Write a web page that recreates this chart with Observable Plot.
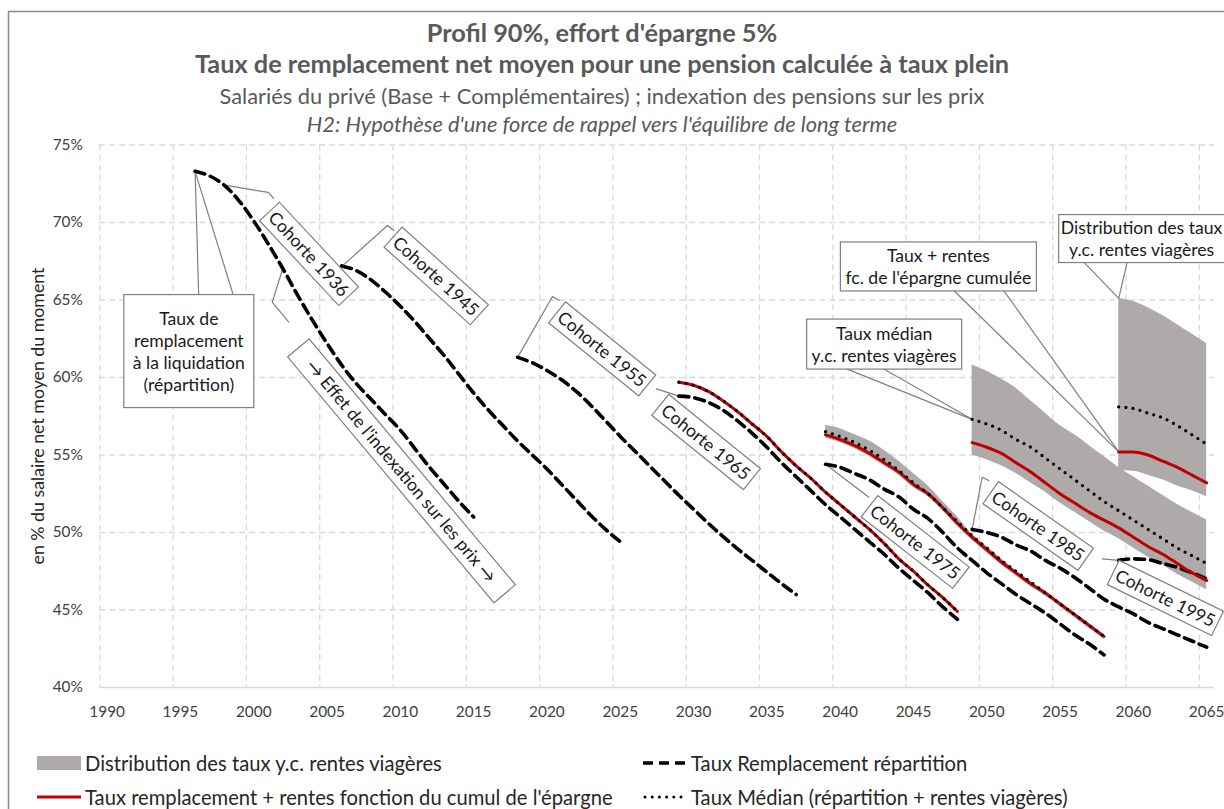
<!DOCTYPE html>
<html><head><meta charset="utf-8">
<script src="https://cdn.jsdelivr.net/npm/d3@7"></script>
<script src="https://cdn.jsdelivr.net/npm/@observablehq/plot@0.6"></script>
<style>
body{margin:0;background:#fff;}
#wrap{position:relative;width:1224px;height:809px;overflow:hidden;font-family:Lato,sans-serif;background:#fff;}
#wrap > svg{position:absolute;left:0;top:0;}
</style></head>
<body><div id="wrap"></div>
<script>
// ---------------- DATA ----------------
const xTicks = [1990,1995,2000,2005,2010,2015,2020,2025,2030,2035,2040,2045,2050,2055,2060,2065];
const yTicks = [40,45,50,55,60,65,70,75];

// Taux Remplacement répartition (dashed), one array per cohort, first year given
const rep1936 = [73.3,73.0,72.4,71.4,70.1,68.6,67.0,65.3,63.7,62.2,60.8,59.6,58.6,57.6,56.6,55.4,54.2,53.1,52.0,51.0]; // 1996-2015
const rep1945 = [67.2,66.9,66.3,65.5,64.6,63.6,62.5,61.4,60.2,59.0,57.9,56.9,55.9,55.0,54.1,53.1,52.1,51.1,50.2,49.4]; // 2006-2025
const rep1955 = [61.3,60.95,60.45,59.85,59.1,58.2,57.2,56.2,55.25,54.3,53.35,52.4,51.5,50.6,49.75,48.95,48.2,47.45,46.7,46.0]; // 2018-2037
const rep1965 = [58.8,58.7,58.4,57.9,57.2,56.4,55.5,54.5,53.6,52.7,51.8,51.0,50.2,49.4,48.6,47.7,46.9,46.1,45.2,44.4]; // 2029-2048
const rep1975 = [54.4,54.2,53.8,53.4,52.8,52.3,51.5,50.9,50.0,49.0,48.2,47.4,46.7,46.0,45.4,44.8,44.1,43.4,42.8,42.1]; // 2039-2058
const rep1985 = [50.2,50.0,49.7,49.2,48.8,48.2,47.7,47.1,46.4,45.7,45.2,44.75,44.2,43.8,43.4,43.0,42.6]; // 2049-2065
const rep1995 = [48.2,48.3,48.25,48.0,47.75,47.4,47.0]; // 2059-2065

// Taux remplacement + rentes fonction du cumul de l'épargne (red)
const red1965 = [59.7,59.5,59.1,58.5,57.8,57.0,56.2,55.2,54.3,53.5,52.6,51.8,51.0,50.2,49.3,48.3,47.5,46.6,45.8,44.9];
const red1975 = [56.3,56.0,55.6,55.1,54.5,53.9,53.1,52.5,51.6,50.6,49.7,48.9,48.1,47.4,46.7,46.1,45.4,44.7,44.0,43.3];
const red1985 = [55.8,55.5,55.1,54.5,53.9,53.2,52.5,51.9,51.3,50.8,50.3,49.7,49.1,48.6,48.0,47.4,46.9];
const red1995 = [55.2,55.2,55.0,54.6,54.2,53.7,53.2];

// Taux Médian (dotted)
const med1965 = [59.7,59.5,59.1,58.5,57.8,57.0,56.2,55.2,54.3,53.5,52.6,51.8,51.0,50.2,49.3,48.3,47.5,46.6,45.8,44.9];
const med1975 = [56.5,56.2,55.8,55.3,54.7,54.0,53.2,52.5,51.6,50.7,49.8,49.0,48.2,47.5,46.8,46.1,45.4,44.7,44.0,43.3];
const med1985 = [57.3,57.0,56.6,56.0,55.5,54.8,54.1,53.4,52.7,52.0,51.4,50.8,50.2,49.6,49.0,48.5,48.0];
const med1995 = [58.1,58.0,57.7,57.4,56.9,56.3,55.7];

// Distribution des taux y.c. rentes viagères (grey band)
const bandLo1975 = [56.1,55.8,55.4,54.9,54.3,53.7,52.9,52.3,51.4,50.4,49.5,48.7,47.9,47.2,46.5,45.9,45.2,44.5,43.8,43.1];
const bandHi1975 = [56.9,56.7,56.3,55.9,55.3,54.6,53.8,53.0,52.0,51.0,49.9,49.1,48.3,47.5,46.8,46.2,45.5,44.8,44.1,43.4];
const bandLo1985 = [55.0,54.7,54.3,53.8,53.2,52.6,51.9,51.3,50.7,50.1,49.6,49.0,48.4,47.9,47.3,46.8,46.3];
const bandHi1985 = [60.8,60.4,59.9,59.3,58.5,57.7,56.9,56.3,55.6,54.9,54.2,53.6,53.0,52.4,51.8,51.3,50.8];
const bandLo1995 = [54.0,53.95,53.7,53.4,53.0,52.7,52.3];
const bandHi1995 = [65.1,64.9,64.5,64.0,63.4,62.8,62.2];

// Callout labels (anchored in data coordinates)
const calloutText = [
  "Taux de\nremplacement\nà la liquidation\n(répartition)",
  "Cohorte 1936","Cohorte 1945","→ Effet de l'indexation sur les prix →",
  "Cohorte 1955","Cohorte 1965","Cohorte 1975","Cohorte 1985","Cohorte 1995",
  "Taux médian\ny.c. rentes viagères",
  "Taux + rentes\nfc. de l'épargne cumulée",
  "Distribution des taux\ny.c. rentes viagères"
];
const calloutYear  = [1995.57,2003.8,2012.47,2010.11,2023.79,2030.88,2045.14,2053.53,2062.2,2043.0,2046.7,2060.56];
const calloutValue = [61.74,68.0,66.58,54.0,61.87,55.87,49.42,50.45,45.81,62.19,67.2,69.0];
const calloutAngle = [0,47,42,50,39,39,38,35,26,0,0,0];
const calloutBox   = [[130,113],[116,27],[116,27],[321,28],[116,27],[118,27],[116,27],[116,27],[116,27],[155,50],[196,49],[166,48]];

// Leader lines of the callouts: [id, year, value]
const leaders = [
  ["a",1996,73.3],["a",1996.24,65.42],
  ["b",1996,73.3],["b",1998.57,65.42],
  ["c",1998.14,72.39],["c",2001.0,71.94],["c",2001.35,71.55],
  ["d",2006.05,67.2],["d",2009.12,69.81],["d",2009.55,69.48],
  ["e",2001.94,66.9],["e",2001.26,64.86],["e",2002.39,63.57],
  ["f",2018.0,61.3],["f",2020.38,65.23],["f",2020.83,64.97],
  ["g",2027.47,59.27],["g",2029.0,58.8],
  ["h",2041.96,52.28],["h",2039.0,54.4],
  ["i",2049,50.2],["i",2049.69,53.57],["i",2050.14,53.35],
  ["j",2057.88,48.3],["j",2059.0,48.2],
  ["k",2040.44,60.56],["k",2049,57.3],
  ["l",2042.94,60.56],["l",2049,57.3],
  ["m",2047.75,65.61],["m",2059,55.2],
  ["n",2051.16,65.61],["n",2059,55.2],
  ["o",2056.62,67.44],["o",2059,65.1],
  ["p",2059.58,67.44],["p",2059,65.1]
];

const titleLines = [
  "Profil 90%, effort d'épargne 5%",
  "Taux de remplacement net moyen pour une pension calculée à taux plein",
  "Salariés du privé (Base + Complémentaires) ; indexation des pensions sur les prix",
  "H2: Hypothèse d'une force de rappel vers l'équilibre de long terme"
];
const yTitle = "en % du salaire net moyen du moment";
const legendLabels = [
  "Distribution des taux y.c. rentes viagères",
  "Taux Remplacement répartition",
  "Taux remplacement + rentes fonction du cumul de l'épargne",
  "Taux Médian (répartition + rentes viagères)"
];

// ---------------- TABLES ----------------
const ser = (c, start, vals) => vals.map((v, i) => ({cohort: c, year: start + i, value: v}));
const band = (c, start, lo, hi) => lo.map((v, i) => ({cohort: c, year: start + i, lo: v, hi: hi[i]}));
const repData = [...ser("1936",1996,rep1936),...ser("1945",2006,rep1945),...ser("1955",2018,rep1955),
  ...ser("1965",2029,rep1965),...ser("1975",2039,rep1975),...ser("1985",2049,rep1985),...ser("1995",2059,rep1995)];
const redData = [...ser("1965",2029,red1965),...ser("1975",2039,red1975),...ser("1985",2049,red1985),...ser("1995",2059,red1995)];
const medData = [...ser("1965",2029,med1965),...ser("1975",2039,med1975),...ser("1985",2049,med1985),...ser("1995",2059,med1995)];
const bandData = [...band("1975",2039,bandLo1975,bandHi1975),...band("1985",2049,bandLo1985,bandHi1985),...band("1995",2059,bandLo1995,bandHi1995)];
const callouts = calloutText.map((t, i) => ({text: t, year: calloutYear[i], value: calloutValue[i], angle: calloutAngle[i]}));
const leaderData = leaders.map(([id, year, value]) => ({id, year, value}));
const xGrid = xTicks.map(d => d - 0.5);

// ---------------- FONT FITTING ----------------
const ctx = document.createElement("canvas").getContext("2d");
function fitSize(text, prefix, target) {
  ctx.font = `${prefix} 100px Lato`;
  return 100 * target / ctx.measureText(text).width;
}
const tickFS = fitSize("1990", "", 35.7);
const callFS = fitSize("fc. de l'épargne cumulée", "", 186);
const titleFS = fitSize(titleLines[1], "bold", 815);
const subFS = fitSize(titleLines[2], "", 766);
const legFS = fitSize(legendLabels[0], "", 358);
const yTitleFS = fitSize(yTitle, "", 297);

// ---------------- PLOT ----------------
const plot = Plot.plot({
  width: 1224, height: 809,
  marginLeft: 99.3, marginRight: 10.5, marginTop: 144.5, marginBottom: 122,
  x: {domain: [1989.5, 2065.5], axis: null},
  y: {domain: [40, 75], axis: null},
  style: {fontFamily: "Lato, sans-serif", background: "transparent", overflow: "visible"},
  marks: [
    Plot.ruleY(yTicks.filter(d => d > 40), {stroke: "#d9d9d9", strokeWidth: 1.3, strokeDasharray: "6,4"}),
    Plot.ruleX(xGrid, {stroke: "#d9d9d9", strokeWidth: 1.3, strokeDasharray: "6,4"}),
    Plot.ruleY([40], {stroke: "#d9d9d9", strokeWidth: 1.5}),
    Plot.text(xTicks, {x: d => d, y: 40, dy: 25, text: d => String(d), fontSize: tickFS, fill: "#404040"}),
    Plot.text(yTicks, {x: 1989.5, y: d => d, dx: -17, textAnchor: "end", text: d => d + "%", fontSize: tickFS, fill: "#404040"}),
    Plot.areaY(bandData, {x: "year", y1: "lo", y2: "hi", z: "cohort", fill: "#aeaaaa", curve: "monotone-x"}),
    Plot.line(leaderData, {x: "year", y: "value", z: "id", stroke: "#7f7f7f", strokeWidth: 1.2}),
    Plot.line(repData, {x: "year", y: "value", z: "cohort", stroke: "#000", strokeWidth: 3.6, strokeDasharray: "10,6", curve: "monotone-x"}),
    Plot.line(redData, {x: "year", y: "value", z: "cohort", stroke: "#c00000", strokeWidth: 3, curve: "monotone-x"}),
    Plot.line(medData, {x: "year", y: "value", z: "cohort", stroke: "#000", strokeWidth: 3.3, strokeDasharray: "0,7.2", strokeLinecap: "round", curve: "monotone-x"}),
    Plot.text(callouts, {x: "year", y: "value", text: "text", rotate: "angle", fontSize: callFS, fill: "#1a1a1a",
      lineHeight: 22 / callFS})
  ]
});
const wrap = document.getElementById("wrap");
wrap.appendChild(plot);

// boxes behind callout texts
const allTexts = Array.from(plot.querySelectorAll("text"));
calloutText.forEach((t, i) => {
  const el = allTexts.find(e => e.textContent === t.replace(/\n/g, ""));
  if (!el) return;
  const bb = el.getBBox();
  const [w, h] = calloutBox[i];
  const cx = bb.x + bb.width / 2, cy = bb.y + bb.height / 2;
  const r = document.createElementNS("http://www.w3.org/2000/svg", "rect");
  r.setAttribute("x", cx - w / 2); r.setAttribute("y", cy - h / 2);
  r.setAttribute("width", w); r.setAttribute("height", h);
  r.setAttribute("fill", "#fff"); r.setAttribute("stroke", "#7f7f7f"); r.setAttribute("stroke-width", 1.2);
  const tr = el.getAttribute("transform");
  if (tr) r.setAttribute("transform", tr);
  el.parentNode.insertBefore(r, el);
});

// ---------------- OVERLAY: frame, titles, axis title, legend ----------------
const ov = d3.select(wrap).append("svg").attr("width", 1224).attr("height", 809)
  .style("font-family", "Lato, sans-serif");
ov.append("rect").attr("x", 8.5).attr("y", 11.5).attr("width", 1240).attr("height", 830)
  .attr("fill", "none").attr("stroke", "#8c8c8c").attr("stroke-width", 1.5);
const tY = [32, 63, 95, 123];
titleLines.forEach((t, i) => {
  ov.append("text").attr("x", 602).attr("y", tY[i]).attr("text-anchor", "middle").attr("dominant-baseline", "central")
    .attr("font-size", i < 2 ? titleFS : subFS).attr("font-weight", i < 2 ? "bold" : "normal")
    .attr("font-style", i === 3 ? "italic" : "normal").attr("fill", "#595959").text(t);
});
ov.append("text").attr("transform", "translate(37,416) rotate(-90)").attr("text-anchor", "middle")
  .attr("dominant-baseline", "central").attr("font-size", yTitleFS).attr("fill", "#262626").text(yTitle);

// legend
const rowY = [763, 797];
const colX = [37, 643];
const sw = ov.append("g");
sw.append("rect").attr("x", colX[0]).attr("y", rowY[0] - 7).attr("width", 44).attr("height", 14).attr("fill", "#aeaaaa");
sw.append("line").attr("x1", colX[1]).attr("x2", colX[1] + 45).attr("y1", rowY[0]).attr("y2", rowY[0])
  .attr("stroke", "#000").attr("stroke-width", 3.6).attr("stroke-dasharray", "10,6");
sw.append("line").attr("x1", colX[0]).attr("x2", colX[0] + 44).attr("y1", rowY[1]).attr("y2", rowY[1])
  .attr("stroke", "#c00000").attr("stroke-width", 3);
sw.append("line").attr("x1", colX[1] + 2).attr("x2", colX[1] + 45).attr("y1", rowY[1]).attr("y2", rowY[1])
  .attr("stroke", "#000").attr("stroke-width", 3).attr("stroke-linecap", "round").attr("stroke-dasharray", "0,7.2");
const legPos = [[colX[0] + 48, rowY[0]], [colX[1] + 48, rowY[0]], [colX[0] + 48, rowY[1]], [colX[1] + 48, rowY[1]]];
legendLabels.forEach((t, i) => {
  ov.append("text").attr("x", legPos[i][0]).attr("y", legPos[i][1]).attr("dominant-baseline", "central")
    .attr("font-size", legFS).attr("fill", "#262626").text(t);
});
</script>
</body></html>
